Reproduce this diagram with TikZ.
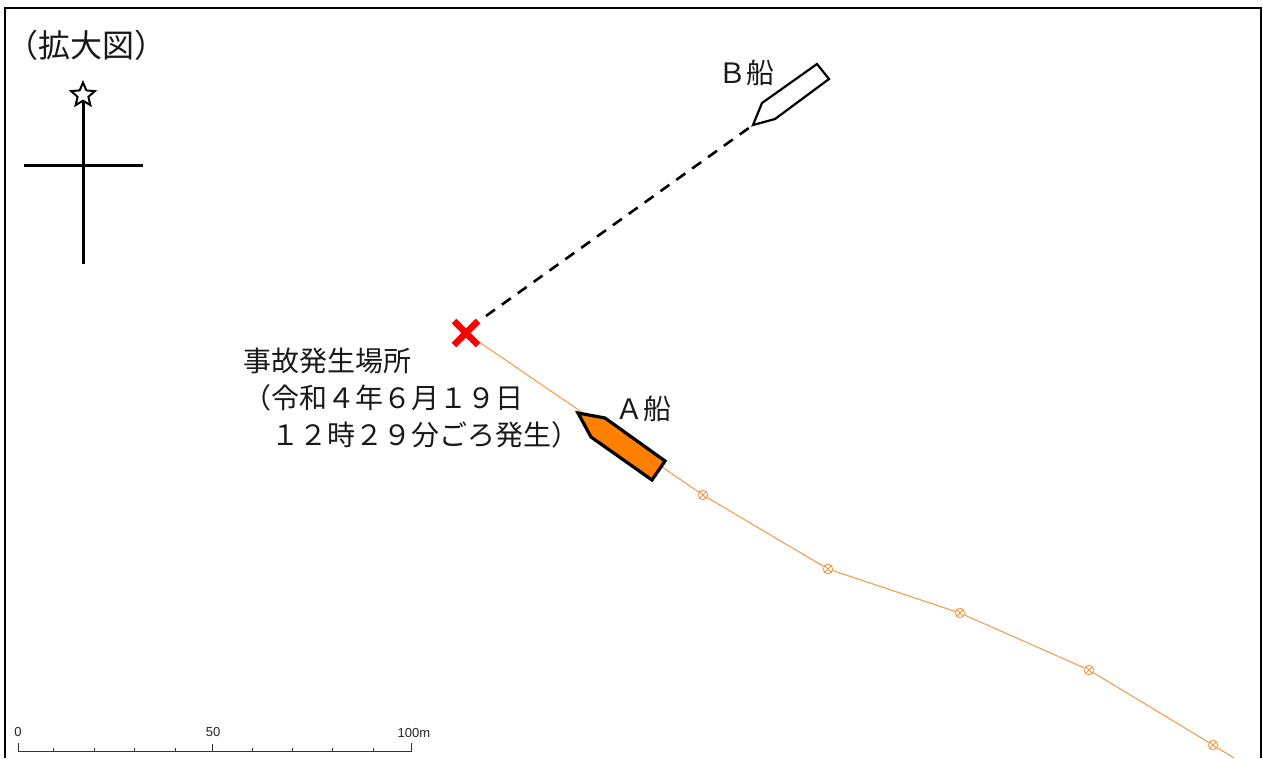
\documentclass[tikz,border=0pt]{standalone}
\usepackage{fontspec}
\setmainfont{Noto Sans CJK JP}
\newfontfamily\scalefont{Liberation Sans}
\usetikzlibrary{shapes.geometric}
\definecolor{trackc}{RGB}{247,150,70}
\definecolor{shipc}{RGB}{255,128,0}
\tikzset{
  x=1pt,y=-1pt,
  lbl/.style={inner sep=0pt,text=black!90,font=\fontsize{28}{37}\selectfont},
  track/.style={draw=trackc,line width=1pt},
  fix/.style={circle,draw=trackc,line width=0.9pt,minimum size=9.5pt,inner sep=0pt,path picture={
    \draw[trackc,line width=0.8pt] (path picture bounding box.south west)--(path picture bounding box.north east)
      (path picture bounding box.north west)--(path picture bounding box.south east);}},
  compass/.style={draw=black,line width=3pt},
  scaleline/.style={draw=black!80,line width=1pt},
  scalenum/.style={inner sep=0pt,font=\scalefont\fontsize{13}{13}\selectfont,text=black!85},
}
\begin{document}
\begin{tikzpicture}
\useasboundingbox (0,0) rectangle (1263,758);
\fill[white] (0,0) rectangle (1263,758);
% frame
\draw[black,line width=2pt] (5,758) -- (5,8) -- (1261,8) -- (1261,758);
% title
\node[lbl,font=\fontsize{32}{37}\selectfont,anchor=center] (title) at (86,45) {（拡大図）};
% compass
\coordinate (nbottom) at (83,264);
\coordinate (wend) at (24,165);
\coordinate (eend) at (143,165);
\node[star,star points=5,star point ratio=2.2,draw=black,fill=white,line width=2pt,minimum size=25pt,inner sep=0pt] (north) at (83,95) {};
\draw[compass] (nbottom) -- (north.south);
\draw[compass] (wend) -- (eend);
% track of ship A
\coordinate (p0) at (466,333);
\node[fix] (p1) at (703,495) {};
\node[fix] (p2) at (828,569) {};
\node[fix] (p3) at (960,613) {};
\node[fix] (p4) at (1089,670) {};
\node[fix] (p5) at (1213,745) {};
\coordinate (p6) at (1234,758);
\draw[track] (p0) -- (p1) -- (p2) -- (p3) -- (p4) -- (p5) -- (p6);
% ship B course
\coordinate (bbow) at (753,125);
\coordinate (bstart) at (486,316);
\draw[black,line width=2.6pt,dash pattern=on 11pt off 8.5pt] (bstart) -- (bbow);
% ship A
\draw[black,fill=shipc,line width=3.2pt,line join=miter] (578,413) -- (605,418) -- (665,461) -- (652,480) -- (591,437) -- cycle;
% ship B
\draw[black,fill=white,line width=2.2pt] (753,125) -- (762,103) -- (817,64) -- (829,79) -- (775,119) -- cycle;
% accident mark
\draw[red,line width=6.5pt] (454,321) -- (478,345) (478,321) -- (454,345);
% labels
\node[lbl,anchor=center] (lA) at (643,409) {Ａ船};
\node[lbl,anchor=center] (lB) at (746,73) {Ｂ船};
\node[lbl,anchor=north west,align=left] (place) at (243,348) {事故発生場所\\（令和４年６月１９日\\　１２時２９分ごろ発生）};
% scale bar
\draw[scaleline] (18,743) -- (18,751) -- (411,751) -- (411,743);
\foreach \t in {53,94,134,175,252,292,332,373} \draw[scaleline] (\t,748) -- (\t,751);
\draw[scaleline] (212,744) -- (212,751);
\node[scalenum] (s0) at (18,732) {0};
\node[scalenum] (s50) at (213,732) {50};
\node[scalenum] (s100) at (414,733) {100m};
\end{tikzpicture}
\end{document}
